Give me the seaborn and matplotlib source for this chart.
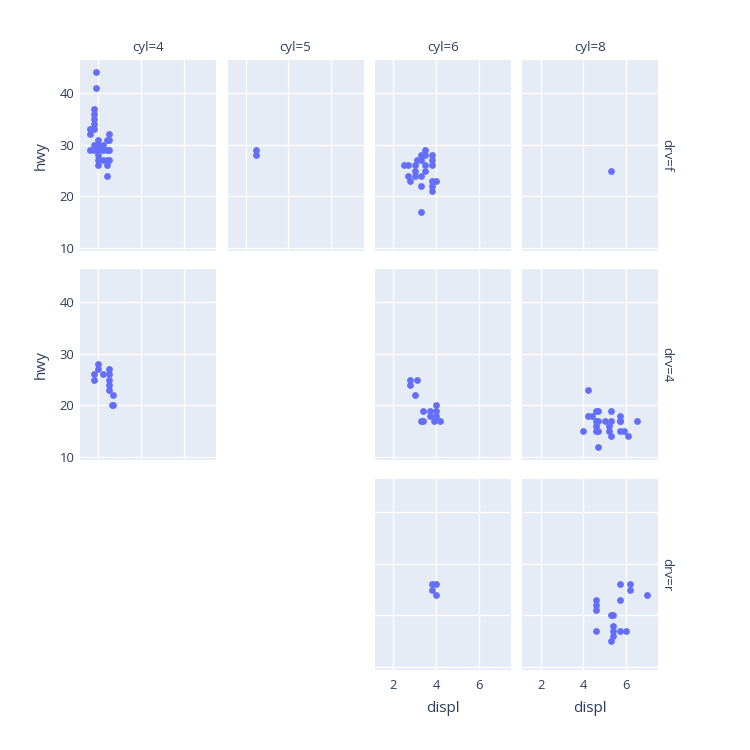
import matplotlib
matplotlib.use("Agg")
import matplotlib.pyplot as plt
import seaborn as sns
import pandas as pd

# values, one pair of lists per facet (cyl, drv)
displ_4f = [1.9, 1.9, 1.8, 1.8, 1.8, 1.8, 1.8, 1.6, 1.6, 1.6, 1.8, 2.0, 2.2, 2.4, 2.5,
            1.8, 2.0, 2.2, 2.0, 2.4, 2.5, 2.5, 2.0, 2.0, 2.2, 2.4, 2.5, 2.0, 2.4, 2.4]
hwy_4f = [44, 41, 37, 36, 35, 34, 33, 33, 32, 29, 29, 29, 29, 29, 29,
          30, 30, 30, 31, 31, 31, 32, 28, 27, 27, 27, 27, 26, 26, 24]

displ_44 = [1.8, 1.8, 2.0, 2.0, 2.2, 2.5, 2.5, 2.5, 2.5, 2.5, 2.7, 2.7, 2.65]
hwy_44 = [26, 25, 28, 27, 26, 27, 26, 25, 24, 23, 22, 20, 20]

displ_5f = [2.5, 2.5]
hwy_5f = [29, 28]

displ_6f = [3.5, 3.3, 3.5, 3.8, 3.1, 3.3, 3.8, 2.5, 2.7, 3.0, 3.5, 3.8, 3.0, 3.5,
            2.7, 3.0, 3.3, 2.8, 3.8, 4.0, 3.3, 3.8, 3.8, 3.3]
hwy_6f = [29, 28, 28, 28, 27, 27, 27, 26, 26, 26, 26, 26, 25, 25,
          24, 24, 24, 23, 23, 23, 22, 22, 21, 17]

displ_64 = [2.8, 3.1, 2.8, 3.0, 3.4, 3.7, 4.0, 4.0, 4.0, 3.7, 3.3, 3.4, 3.9, 4.2]
hwy_64 = [25, 25, 24, 22, 19, 19, 20, 19, 18, 18, 17, 17, 17, 17]

displ_6r = [3.8, 4.0, 3.8, 4.0]
hwy_6r = [26, 26, 25, 24]

displ_8f = [5.3]
hwy_8f = [25]

displ_84 = [4.2, 4.2, 4.4, 4.6, 4.7, 5.3, 5.7, 5.7, 4.6, 4.7, 5.0, 5.3, 5.7, 6.5,
            4.0, 4.6, 4.7, 4.6, 5.2, 5.2, 5.3, 5.7, 5.9, 6.1, 4.7]
hwy_84 = [23, 18, 18, 19, 19, 19, 18, 17, 17, 17, 17, 17, 17, 17,
          15, 16, 15, 15, 16, 15, 14, 15, 15, 14, 12]

displ_8r = [5.7, 6.2, 6.2, 7.0, 5.7, 4.6, 4.6, 4.6, 5.3, 5.4, 5.4, 4.6, 5.4, 5.7, 6.0, 5.4, 5.3]
hwy_8r = [26, 26, 25, 24, 23, 23, 22, 21, 20, 20, 18, 17, 17, 17, 17, 16, 15]

cyl_levels = [4, 5, 6, 8]
drv_levels = ["f", "4", "r"]

facets = {
    (4, "f"): (displ_4f, hwy_4f),
    (4, "4"): (displ_44, hwy_44),
    (5, "f"): (displ_5f, hwy_5f),
    (6, "f"): (displ_6f, hwy_6f),
    (6, "4"): (displ_64, hwy_64),
    (6, "r"): (displ_6r, hwy_6r),
    (8, "f"): (displ_8f, hwy_8f),
    (8, "4"): (displ_84, hwy_84),
    (8, "r"): (displ_8r, hwy_8r),
}

frames = []
for (c, d), (xs, ys) in facets.items():
    frames.append(pd.DataFrame({"displ": xs, "hwy": ys, "cyl": c, "drv": d}))
df = pd.concat(frames, ignore_index=True)

TEXT = "#2a3f5f"
BG = "#E5ECF6"
MARK = "#636EFA"

sns.set_theme(style="darkgrid", rc={
    "axes.facecolor": BG,
    "grid.color": "white",
    "grid.linewidth": 1.0,
    "axes.edgecolor": BG,
    "text.color": TEXT,
    "xtick.color": TEXT,
    "ytick.color": TEXT,
    "axes.labelcolor": TEXT,
})
plt.rcParams["font.family"] = ["Open Sans", "DejaVu Sans"]

W = H = 750
fig = plt.figure(figsize=(7.5, 7.5), dpi=100)

col_left = [80, 227.5, 375, 522.3]
row_top = [60, 269, 479]
pw, ph = 136, 190.5

for ri, d in enumerate(drv_levels):
    for ci, c in enumerate(cyl_levels):
        if (c, d) not in facets:
            continue
        ax = fig.add_axes([col_left[ci] / W, 1 - (row_top[ri] + ph) / H, pw / W, ph / H])
        sub = df[(df.cyl == c) & (df.drv == d)]
        sns.scatterplot(data=sub, x="displ", y="hwy", ax=ax, color=MARK,
                        s=24, linewidth=0, alpha=1)
        ax.set_xlim(1.14, 7.52)
        ax.set_ylim(9.54, 46.4)
        ax.set_xticks([2, 4, 6])
        ax.set_yticks([10, 20, 30, 40])
        ax.tick_params(length=0, labelsize=9.4, colors=TEXT)
        ax.tick_params(axis="x", pad=7)
        ax.tick_params(axis="y", pad=4)
        for sp in ax.spines.values():
            sp.set_visible(False)
        # y ticks only on the first column, except the bottom row
        if ci == 0 and ri < 2:
            ax.set_ylabel("hwy", fontsize=11, labelpad=8)
        else:
            ax.set_ylabel("")
            ax.set_yticklabels([])
        if ri == 2:
            ax.set_xlabel("displ", fontsize=11, labelpad=6)
        else:
            ax.set_xlabel("")
            ax.set_xticklabels([])

for ci, c in enumerate(cyl_levels):
    fig.text((col_left[ci] + pw / 2) / W, 1 - 48 / H, f"cyl={c}",
             ha="center", va="center", fontsize=9.6, color=TEXT)
for ri, d in enumerate(drv_levels):
    fig.text(667 / W, 1 - (row_top[ri] + ph / 2) / H, f"drv={d}",
             ha="center", va="center", rotation=-90, fontsize=9.6, color=TEXT)

fig.savefig("out.png", dpi=100, facecolor="white")
